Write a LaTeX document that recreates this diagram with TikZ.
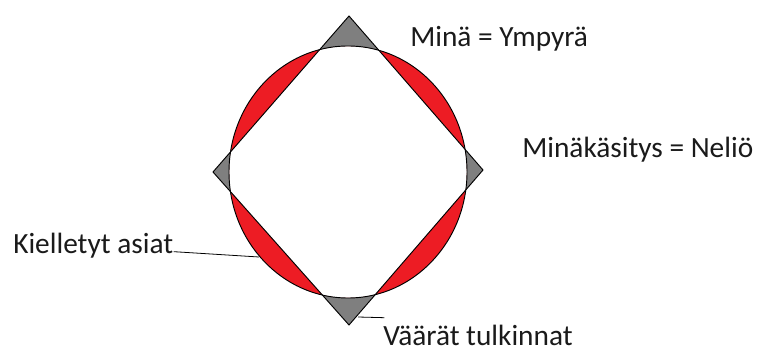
\documentclass[tikz,border=0pt]{standalone}
\usepackage{fontspec}
\setmainfont{Carlito}
\usetikzlibrary{positioning}
\definecolor{paintred}{HTML}{ED1C24}
\definecolor{paintgray}{HTML}{7F7F7F}
\definecolor{labelink}{HTML}{1A1A1A}

\begin{document}
\begin{tikzpicture}[x=0.75pt,y=-0.75pt,
      caption/.style={anchor=base west,inner sep=0pt,font=\fontsize{22}{26}\selectfont,text=labelink},
      outline/.style={draw=black,line width=.7pt},
      leader/.style={draw=black,line width=.6pt}]
    \useasboundingbox (0,0) rectangle (762,352);
    % square corners
    \coordinate (sqtop) at (349,16);
    \coordinate (sqright) at (483,170);
    \coordinate (sqbottom) at (349,325);
    \coordinate (sqleft) at (213,172);
    \coordinate (self) at (348,172);
    % red: circle outside the square
    \begin{scope}
      \clip (self) ellipse [x radius=119,y radius=126];
      \fill[paintred,even odd rule] (self) ellipse [x radius=119,y radius=126]
        (sqtop) -- (sqright) -- (sqbottom) -- (sqleft) -- cycle;
    \end{scope}
    % gray: square outside the circle
    \begin{scope}
      \clip (sqtop) -- (sqright) -- (sqbottom) -- (sqleft) -- cycle;
      \fill[paintgray,even odd rule] (self) ellipse [x radius=119,y radius=126]
        (sqtop) -- (sqright) -- (sqbottom) -- (sqleft) -- cycle;
    \end{scope}
    \draw[outline] (self) ellipse [x radius=119,y radius=126];
    \draw[outline] (sqtop) -- (sqright) -- (sqbottom) -- (sqleft) -- cycle;

    \node[caption] (mina) at (410,47) {Minä = Ympyrä};
    \node[caption] (kasitys) at (522,158) {Minäkäsitys = Neliö};
    \node[caption] (kielletyt) at (13,253) {Kielletyt asiat};
    \node[caption] (vaarat) at (383,345) {Väärät tulkinnat};
    \coordinate (forbidden) at (259,257);
    \coordinate (misread) at (358,317);
    \draw[leader] ([yshift=1]kielletyt.base east) -- (forbidden);
    \draw[leader] (misread) -- ([xshift=1,yshift=5]vaarat.north west);
\end{tikzpicture}
\end{document}
